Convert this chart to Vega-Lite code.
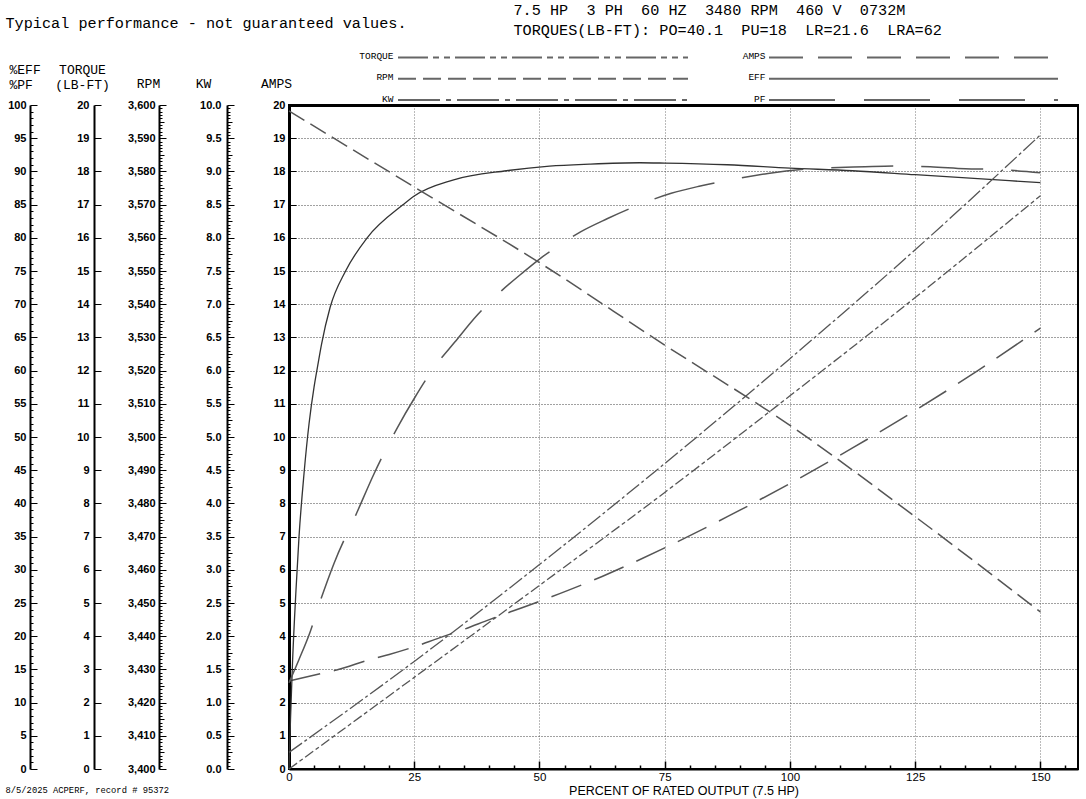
{
 "$schema": "https://vega.github.io/schema/vega-lite/v6.json",
 "width": 789, "height": 664,
 "autosize": {"type": "none"},
 "padding": {"left": 289, "top": 105, "right": 8, "bottom": 30},
 "background": "white",
 "config": {
  "view": {"stroke": "#000", "strokeWidth": 2},
  "axis": {"labelFont": "Liberation Sans", "labelFontSize": 11, "labelFontWeight": "bold", "labelColor": "#000", "tickColor": "#000", "domainColor": "#000", "titleColor": "#000", "titleFont": "Liberation Mono", "titleFontSize": 13, "titleFontWeight": "normal", "titleBaseline": "alphabetic", "labelOverlap": false, "labelFlush": false, "grid": false}
 },
 "datasets": {
  "curves": [
   {"series":"EFF","pct":0,"value":0},{"series":"EFF","pct":0.3,"value":7.5},{"series":"EFF","pct":0.7,"value":16},{"series":"EFF","pct":1.4,"value":27},{"series":"EFF","pct":2,"value":35},{"series":"EFF","pct":3,"value":44.5},{"series":"EFF","pct":4,"value":52},{"series":"EFF","pct":5,"value":57.5},{"series":"EFF","pct":5.7,"value":60.6},{"series":"EFF","pct":6.5,"value":64},{"series":"EFF","pct":8.2,"value":69.5},{"series":"EFF","pct":11.3,"value":75},{"series":"EFF","pct":15.6,"value":80},{"series":"EFF","pct":22.8,"value":85},{"series":"EFF","pct":25,"value":86.3},{"series":"EFF","pct":32.7,"value":88.7},{"series":"EFF","pct":43.4,"value":90.1},{"series":"EFF","pct":52,"value":90.8},{"series":"EFF","pct":60,"value":91.1},{"series":"EFF","pct":70,"value":91.3},{"series":"EFF","pct":75,"value":91.25},{"series":"EFF","pct":87.5,"value":91},{"series":"EFF","pct":100,"value":90.5},{"series":"EFF","pct":112.5,"value":90.1},{"series":"EFF","pct":125,"value":89.5},{"series":"EFF","pct":137.5,"value":88.9},{"series":"EFF","pct":150,"value":88.3},
   {"series":"PF","pct":0,"value":13},{"series":"PF","pct":2,"value":16.5},{"series":"PF","pct":4.2,"value":20.6},{"series":"PF","pct":6.2,"value":25.2},{"series":"PF","pct":9,"value":31},{"series":"PF","pct":13.6,"value":38.7},{"series":"PF","pct":17,"value":44.5},{"series":"PF","pct":21.7,"value":51.5},{"series":"PF","pct":25,"value":55.8},{"series":"PF","pct":29.1,"value":60.6},{"series":"PF","pct":33.1,"value":64.3},{"series":"PF","pct":37.5,"value":68.3},{"series":"PF","pct":42.4,"value":72},{"series":"PF","pct":46.9,"value":74.9},{"series":"PF","pct":50,"value":76.8},{"series":"PF","pct":55,"value":79.4},{"series":"PF","pct":58.2,"value":80.9},{"series":"PF","pct":63.6,"value":82.9},{"series":"PF","pct":70,"value":85},{"series":"PF","pct":76.3,"value":86.7},{"series":"PF","pct":82.1,"value":87.8},{"series":"PF","pct":90,"value":89},{"series":"PF","pct":95.6,"value":89.7},{"series":"PF","pct":104,"value":90.4},{"series":"PF","pct":115,"value":90.7},{"series":"PF","pct":121,"value":90.8},{"series":"PF","pct":128,"value":90.7},{"series":"PF","pct":135,"value":90.4},{"series":"PF","pct":141,"value":90.3},{"series":"PF","pct":150,"value":89.8},
   {"series":"TORQUE","pct":0,"value":0},{"series":"TORQUE","pct":25,"value":2.76},{"series":"TORQUE","pct":50,"value":5.53},{"series":"TORQUE","pct":75,"value":8.33},{"series":"TORQUE","pct":100,"value":11.24},{"series":"TORQUE","pct":125,"value":14.2},{"series":"TORQUE","pct":150,"value":17.27},
   {"series":"RPM","pct":0,"value":3598.2},{"series":"RPM","pct":25,"value":3575.3},{"series":"RPM","pct":50,"value":3552.5},{"series":"RPM","pct":75,"value":3527.7},{"series":"RPM","pct":100,"value":3503.5},{"series":"RPM","pct":125,"value":3476},{"series":"RPM","pct":150,"value":3447.3},
   {"series":"KW","pct":0,"value":0.25},{"series":"KW","pct":25,"value":1.62},{"series":"KW","pct":50,"value":3.08},{"series":"KW","pct":75,"value":4.6},{"series":"KW","pct":100,"value":6.18},{"series":"KW","pct":125,"value":7.82},{"series":"KW","pct":150,"value":9.55},
   {"series":"AMPS","pct":0,"value":2.65},{"series":"AMPS","pct":6.5,"value":2.88},{"series":"AMPS","pct":9.5,"value":2.98},{"series":"AMPS","pct":16.2,"value":3.3},{"series":"AMPS","pct":20,"value":3.45},{"series":"AMPS","pct":25,"value":3.68},{"series":"AMPS","pct":30,"value":3.95},{"series":"AMPS","pct":34.8,"value":4.2},{"series":"AMPS","pct":40,"value":4.5},{"series":"AMPS","pct":50,"value":5.05},{"series":"AMPS","pct":62.5,"value":5.8},{"series":"AMPS","pct":75,"value":6.66},{"series":"AMPS","pct":87.5,"value":7.6},{"series":"AMPS","pct":100,"value":8.6},{"series":"AMPS","pct":112.5,"value":9.67},{"series":"AMPS","pct":125,"value":10.8},{"series":"AMPS","pct":137.5,"value":12.0},{"series":"AMPS","pct":150,"value":13.28}
  ],
  "legend": [
   {"series":"TORQUE","block":"L","end":0},{"series":"TORQUE","block":"L","end":1},
   {"series":"RPM","block":"L","end":0},{"series":"RPM","block":"L","end":1},
   {"series":"KW","block":"L","end":0},{"series":"KW","block":"L","end":1},
   {"series":"AMPS","block":"R","end":0},{"series":"AMPS","block":"R","end":1},
   {"series":"EFF","block":"R","end":0},{"series":"EFF","block":"R","end":1},
   {"series":"PF","block":"R","end":0},{"series":"PF","block":"R","end":1}
  ]
 },
 "resolve": {"scale": {"x": "independent", "y": "independent"}, "axis": {"x": "independent", "y": "independent"}},
 "layer": [
  {
   "data": {"name": "curves"},
   "transform": [{"filter": "datum.series === 'AMPS'"}],
   "mark": {"type": "line", "interpolate": "monotone", "stroke": "#555", "strokeWidth": 1.5, "strokeDash": [32, 14]},
   "encoding": {
    "x": {"field": "pct", "type": "quantitative", "scale": {"domain": [0, 157.5], "nice": false, "zero": false},
     "axis": {"orient": "bottom", "values": [0,5,10,15,20,25,30,35,40,45,50,55,60,65,70,75,80,85,90,95,100,105,110,115,120,125,130,135,140,145,150,155], "format": "d",
      "labelExpr": "datum.value % 25 === 0 ? datum.label : ''", "labelFontWeight": "normal", "labelFontSize": 11.5, "labelPadding": 10,
      "domain": true, "domainWidth": 2,
      "tickSize": {"condition": {"test": "datum.value % 25 === 0", "value": -8}, "value": -4}, "tickWidth": 1.5,
      "grid": true, "gridColor": "#777", "gridDash": [1, 2], "gridWidth": 1,
      "gridOpacity": {"condition": {"test": "datum.value % 25 === 0 && datum.value > 0", "value": 1}, "value": 0},
      "title": "PERCENT OF RATED OUTPUT (7.5 HP)", "titleFont": "Liberation Sans", "titleFontSize": 12.5, "titleX": 394.5, "titleY": 25, "titleAlign": "center"}},
    "y": {"field": "value", "type": "quantitative", "scale": {"domain": [0, 20], "nice": false},
     "axis": {"orient": "left", "offset": 0, "values": [0,0.25,0.5,0.75,1,1.25,1.5,1.75,2,2.25,2.5,2.75,3,3.25,3.5,3.75,4,4.25,4.5,4.75,5,5.25,5.5,5.75,6,6.25,6.5,6.75,7,7.25,7.5,7.75,8,8.25,8.5,8.75,9,9.25,9.5,9.75,10,10.25,10.5,10.75,11,11.25,11.5,11.75,12,12.25,12.5,12.75,13,13.25,13.5,13.75,14,14.25,14.5,14.75,15,15.25,15.5,15.75,16,16.25,16.5,16.75,17,17.25,17.5,17.75,18,18.25,18.5,18.75,19,19.25,19.5,19.75,20], "format": "d",
      "labelExpr": "datum.value % 1 === 0 ? datum.label : ''", "labelPadding": 11, "domainWidth": 3,
      "tickSize": {"condition": [{"test": "datum.value % 1 === 0", "value": -7}, {"test": "datum.value % 0.5 === 0", "value": -5}], "value": -3},
      "grid": true, "gridColor": "#444", "gridDash": [1, 2], "gridWidth": 1.2,
      "gridOpacity": {"condition": {"test": "datum.value % 1 === 0 && datum.value > 0 && datum.value < 20", "value": 1}, "value": 0},
      "title": "AMPS", "titleAngle": 0, "titleAlign": "center", "titleX": -13, "titleY": -18}}
   }
  },
  {
   "data": {"name": "curves"},
   "transform": [{"filter": "datum.series === 'EFF'"}],
   "mark": {"type": "line", "interpolate": "monotone", "stroke": "#333", "strokeWidth": 1.3},
   "encoding": {
    "x": {"field": "pct", "type": "quantitative", "scale": {"domain": [0, 157.5], "nice": false, "zero": false},
     "axis": {"orient": "top", "domain": true, "domainWidth": 3, "ticks": false, "labels": false, "grid": false, "title": null}},
    "y": {"field": "value", "type": "quantitative", "scale": {"domain": [0, 100], "nice": false},
     "axis": {"orient": "left", "offset": 259, "tickCount": 200, "format": "d",
      "labelExpr": "abs(datum.value/5 - round(datum.value/5)) < 1e-6 ? datum.label : ''", "labelPadding": 11, "domainWidth": 2,
      "tickSize": {"condition": [{"test": "abs(datum.value/5 - round(datum.value/5)) < 1e-6", "value": -7}, {"test": "abs(datum.value/2.5 - round(datum.value/2.5)) < 1e-6", "value": -5}], "value": -3},
      "title": ["%EFF", "%PF"], "titleAngle": 0, "titleAlign": "left", "titleX": -21, "titleY": -32, "titleLineHeight": 15}}
   }
  },
  {
   "data": {"name": "curves"},
   "transform": [{"filter": "datum.series === 'PF'"}],
   "mark": {"type": "line", "interpolate": "monotone", "stroke": "#555", "strokeWidth": 1.5, "strokeDash": [62, 28]},
   "encoding": {
    "x": {"field": "pct", "type": "quantitative", "scale": {"domain": [0, 157.5], "nice": false, "zero": false},
     "axis": {"orient": "bottom", "domain": false, "ticks": false, "labels": false, "grid": false,
      "title": "8/5/2025 ACPERF, record # 95372", "titleFont": "Liberation Mono", "titleFontSize": 8.8, "titleX": -284, "titleY": 23, "titleAlign": "left"}},
    "y": {"field": "value", "type": "quantitative", "scale": {"domain": [0, 100], "nice": false}, "axis": null}
   }
  },
  {
   "data": {"name": "curves"},
   "transform": [{"filter": "datum.series === 'TORQUE'"}],
   "mark": {"type": "line", "interpolate": "monotone", "stroke": "#555", "strokeWidth": 1.3, "strokeDash": [10, 3, 4, 3]},
   "encoding": {
    "x": {"field": "pct", "type": "quantitative", "scale": {"domain": [0, 157.5], "nice": false, "zero": false}, "axis": null},
    "y": {"field": "value", "type": "quantitative", "scale": {"domain": [0, 20], "nice": false},
     "axis": {"orient": "left", "offset": 195, "tickCount": 200, "format": "d",
      "labelExpr": "abs(datum.value - round(datum.value)) < 1e-6 ? datum.label : ''", "labelPadding": 12, "domainWidth": 2,
      "tickSize": {"condition": [{"test": "abs(datum.value - round(datum.value)) < 1e-6", "value": -7}, {"test": "abs(datum.value*2 - round(datum.value*2)) < 1e-6", "value": -5}], "value": -3},
      "title": ["TORQUE", "(LB-FT)"], "titleAngle": 0, "titleAlign": "center", "titleX": -12, "titleY": -32, "titleLineHeight": 15}}
   }
  },
  {
   "data": {"name": "curves"},
   "transform": [{"filter": "datum.series === 'RPM'"}],
   "mark": {"type": "line", "interpolate": "monotone", "stroke": "#555", "strokeWidth": 1.5, "strokeDash": [18, 7]},
   "encoding": {
    "x": {"field": "pct", "type": "quantitative", "scale": {"domain": [0, 157.5], "nice": false, "zero": false}, "axis": null},
    "y": {"field": "value", "type": "quantitative", "scale": {"domain": [3400, 3600], "nice": false, "zero": false},
     "axis": {"orient": "left", "offset": 130, "tickCount": 200, "format": ",d",
      "labelExpr": "abs(datum.value/10 - round(datum.value/10)) < 1e-6 ? datum.label : ''", "labelPadding": 11, "domainWidth": 2,
      "tickSize": {"condition": [{"test": "abs(datum.value/10 - round(datum.value/10)) < 1e-6", "value": -7}, {"test": "abs(datum.value/5 - round(datum.value/5)) < 1e-6", "value": -5}], "value": -3},
      "title": "RPM", "titleAngle": 0, "titleAlign": "center", "titleX": -11, "titleY": -18}}
   }
  },
  {
   "data": {"name": "curves"},
   "transform": [{"filter": "datum.series === 'KW'"}],
   "mark": {"type": "line", "interpolate": "monotone", "stroke": "#555", "strokeWidth": 1.3, "strokeDash": [16, 3, 3, 3]},
   "encoding": {
    "x": {"field": "pct", "type": "quantitative", "scale": {"domain": [0, 157.5], "nice": false, "zero": false}, "axis": null},
    "y": {"field": "value", "type": "quantitative", "scale": {"domain": [0, 10], "nice": false},
     "axis": {"orient": "left", "offset": 62, "tickCount": 200, "format": ".1f",
      "labelExpr": "abs(datum.value*2 - round(datum.value*2)) < 1e-6 ? datum.label : ''", "labelPadding": 13, "domainWidth": 2,
      "tickSize": {"condition": [{"test": "abs(datum.value*2 - round(datum.value*2)) < 1e-6", "value": -7}, {"test": "abs(datum.value*4 - round(datum.value*4)) < 1e-6", "value": -5}], "value": -3},
      "title": "KW", "titleAngle": 0, "titleAlign": "center", "titleX": -24, "titleY": -18}}
   }
  },
  {
   "data": {"name": "legend"},
   "transform": [{"filter": "datum.block === 'L'"}],
   "mark": {"type": "line", "stroke": "#666", "strokeWidth": 2},
   "encoding": {
    "x": {"field": "end", "type": "quantitative", "scale": {"domain": [0, 1], "range": [109, 399], "nice": false, "zero": false},
     "axis": {"orient": "top", "domain": false, "ticks": false, "labels": false, "grid": false,
      "title": "Typical performance - not guaranteed values.", "titleFont": "Liberation Mono", "titleFontSize": 15.2, "titleX": -284, "titleY": -78, "titleAlign": "left"}},
    "y": {"field": "series", "type": "nominal", "scale": {"type": "point", "domain": ["TORQUE", "RPM", "KW"], "range": [-47.5, -5], "padding": 0},
     "axis": {"orient": "left", "offset": -106, "domain": false, "ticks": false, "grid": false, "labelPadding": 2, "labelOffset": -2, "labelFont": "Liberation Mono", "labelFontSize": 9.5, "labelFontWeight": "normal", "title": null}},
    "strokeDash": {"field": "series", "type": "nominal", "scale": {"domain": ["TORQUE", "RPM", "KW", "AMPS", "EFF", "PF"], "range": [[30, 5, 6, 5, 6, 5], [18, 7], [42, 6, 5, 6], [34, 15], [1, 0], [66, 29]]}, "legend": null}
   }
  },
  {
   "data": {"name": "legend"},
   "transform": [{"filter": "datum.block === 'R'"}],
   "mark": {"type": "line", "stroke": "#666", "strokeWidth": 2},
   "encoding": {
    "x": {"field": "end", "type": "quantitative", "scale": {"domain": [0, 1], "range": [480, 769], "nice": false, "zero": false},
     "axis": {"orient": "top", "domain": false, "ticks": false, "labels": false, "grid": false,
      "title": ["7.5\u00a0HP\u00a0\u00a03\u00a0PH\u00a0\u00a060\u00a0HZ\u00a0\u00a03480\u00a0RPM\u00a0\u00a0460\u00a0V\u00a0\u00a00732M", "TORQUES(LB-FT):\u00a0PO=40.1\u00a0\u00a0PU=18\u00a0\u00a0LR=21.6\u00a0\u00a0LRA=62"],
      "titleFont": "Liberation Mono", "titleFontSize": 15.2, "titleX": 224, "titleY": -91, "titleAlign": "left", "titleLineHeight": 20}},
    "y": {"field": "series", "type": "nominal", "scale": {"type": "point", "domain": ["AMPS", "EFF", "PF"], "range": [-47.5, -5], "padding": 0},
     "axis": {"orient": "left", "offset": -478, "domain": false, "ticks": false, "grid": false, "labelPadding": 2, "labelOffset": -2, "labelFont": "Liberation Mono", "labelFontSize": 9.5, "labelFontWeight": "normal", "title": null}},
    "strokeDash": {"field": "series", "type": "nominal", "scale": {"domain": ["TORQUE", "RPM", "KW", "AMPS", "EFF", "PF"], "range": [[30, 5, 6, 5, 6, 5], [18, 7], [42, 6, 5, 6], [34, 15], [1, 0], [66, 29]]}, "legend": null}
   }
  }
 ]
}
